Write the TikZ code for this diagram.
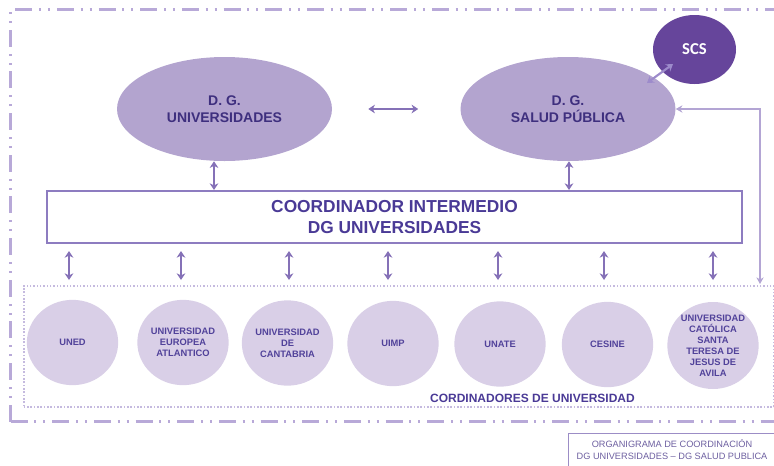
\documentclass[tikz,border=0pt]{standalone}
\usepackage{fontspec}
\setmainfont{Liberation Sans}
\newfontfamily\carlitofont{Carlito}
\usetikzlibrary{shapes.geometric,arrows.meta,calc}
\definecolor{purpleBig}{HTML}{B3A4CF}
\definecolor{scsFill}{HTML}{66459B}
\definecolor{circFill}{HTML}{D9CFE7}
\definecolor{textDark}{HTML}{3E2F7E}
\definecolor{coordText}{HTML}{4A3A96}
\definecolor{circText}{HTML}{51429A}
\definecolor{arrowCol}{HTML}{8571B7}
\definecolor{boxBorder}{HTML}{8D7CC0}
\definecolor{lightLine}{HTML}{B3A5D4}
\definecolor{scsArrow}{HTML}{9D8BCB}
\definecolor{dotCol}{HTML}{C5BADF}
\definecolor{borderCol}{HTML}{B8A9D8}
\definecolor{bottomText}{HTML}{6D5FA0}
\definecolor{bottomBox}{HTML}{9C8DC6}
\begin{document}
\begin{tikzpicture}[x=0.75pt,y=-0.75pt,
  bigell/.style={ellipse, fill=purpleBig, minimum width=161.25pt, minimum height=78pt, inner sep=0pt,
    text=textDark, font=\bfseries\fontsize{10.5}{12.75}\selectfont, align=center},
  univ/.style={ellipse, fill=circFill, minimum width=68.5pt, minimum height=64pt, inner sep=0pt,
    text=circText, font=\bfseries\fontsize{7}{8.25}\selectfont, align=center},
  tips/.style={{Stealth[length=5pt,width=6.5pt]}-{Stealth[length=5pt,width=6.5pt]}},
  arr/.style={tips, draw=arrowCol, line width=1.5pt},
  scsarr/.style={tips, draw=scsArrow, line width=1.6pt},
  rightarr/.style={{Stealth[length=5pt,width=5.5pt]}-{Stealth[length=5pt,width=5.5pt]}, draw=lightLine, line width=1.2pt},
  outerborder/.style={draw=borderCol, line width=1.7pt,
    dash pattern=on 12.75pt off 5pt on 1.5pt off 5.25pt on 1.5pt off 5.25pt},
]
\useasboundingbox (0,0) rectangle (774,465);
\clip (0,0) rectangle (774,465);

% outer dash-dot-dot frame
\draw[outerborder] (10.5,421.5) -- (10.5,9.5) -- (790,9.5);
\draw[outerborder] (10.5,421.5) -- (790,421.5);

% dotted frame of the university coordinators
\node[draw=dotCol, line width=1.2pt, dash pattern=on 1.2pt off 1.3pt, minimum width=562.5pt, minimum height=90.75pt,
  inner sep=0pt, anchor=north west] (dbox) at (23,285) {};

% top ellipses
\node[bigell] (dgu) at (224.5,109) {D. G.\\UNIVERSIDADES};
\node[bigell] (dgs) at (568,109) {D. G.\\SALUD PÚBLICA};
\node[ellipse, fill=scsFill, minimum width=62.25pt, minimum height=51.75pt, inner sep=0pt,
  text=white, font=\carlitofont\bfseries\fontsize{12.5}{14}\selectfont] (scs) at (694.5,49.5) {SCS};

% coordinator box
\node[draw=boxBorder, line width=1.5pt, minimum width=521.25pt, minimum height=39pt, inner sep=0pt,
  text=coordText, font=\bfseries\fontsize{13}{15.75}\selectfont, align=center] (coord) at (394.5,217)
  {COORDINADOR INTERMEDIO\\DG UNIVERSIDADES};

% universities
\node[univ] (uned) at (72.5,342.5) {UNED};
\node[univ] (eur) at (183,342.5) {UNIVERSIDAD\\EUROPEA\\ATLANTICO};
\node[univ] (cant) at (287.5,343) {UNIVERSIDAD\\DE\\CANTABRIA};
\node[univ] (uimp) at (393,343.5) {UIMP};
\node[univ] (unate) at (500,344) {UNATE};
\node[univ] (cesine) at (607.5,344.5) {CESINE};
\node[univ] (cat) at (713,345.5) {UNIVERSIDAD\\CATÓLICA\\SANTA\\TERESA DE\\JESUS DE\\AVILA};

\node[text=coordText, font=\bfseries\fontsize{9}{11}\selectfont] (cordlab) at (532.5,398.5) {CORDINADORES DE UNIVERSIDAD};

% connectors
\draw[arr, shorten <=27pt, shorten >=31.5pt] (dgu.east) -- (dgs.west);
\draw[arr] ($(dgu.south)+(-10.5,0)$) -- ($(dgu.south |- coord.north)+(-10.5,0)$);
\draw[arr] ($(dgs.south)+(1,0)$) -- ($(dgs.south |- coord.north)+(1,0)$);
\draw[scsarr] ($(scs.center)+(-21.5,14.5)$) -- ($(dgs.center)+(79,-26)$);
\coordinate (rc) at (760,284);
\draw[rightarr] (dgs.east) -| (rc);
\foreach \n/\dx in {uned/-3.5, eur/-2, cant/1.5, uimp/-5, unate/-2, cesine/-3.5, cat/0}
  \draw[arr, shorten <=5.25pt, shorten >=3.75pt] ($(coord.south -| \n)+(\dx,0)$) -- ($(\n |- dbox.north)+(\dx,0)$);

% caption box
\draw[draw=bottomBox, line width=0.75pt] (568.5,433.5) rectangle (790,480);
\node[text=bottomText, font=\fontsize{6.9}{9.4}\selectfont, align=center] (caption) at (672,449.5)
  {ORGANIGRAMA  DE COORDINACIÓN\\DG UNIVERSIDADES  -- DG SALUD PUBLICA};
\end{tikzpicture}
\end{document}
